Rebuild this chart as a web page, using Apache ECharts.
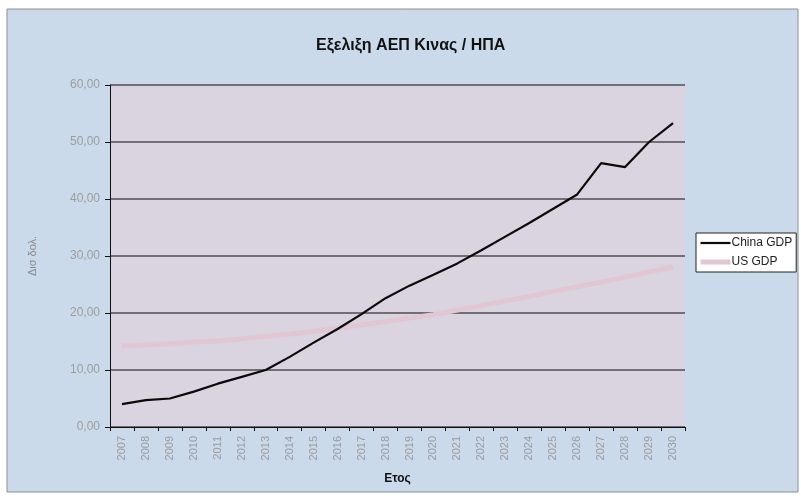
<!DOCTYPE html>
<html>
<head>
    <meta charset="UTF-8">
    <title>Εξελιξη ΑΕΠ</title>
    <script src="https://cdn.jsdelivr.net/npm/echarts@6/dist/echarts.min.js"></script>
    <style>
        body, html {
            margin: 0;
            padding: 0;
            background: #fff;
        }
        #chart {
            width: 801px;
            height: 502px;
        }
    </style>
</head>
<body>
<div id="chart"></div>
<script>
    var years = ['2007', '2008', '2009', '2010', '2011', '2012', '2013', '2014', '2015', '2016', '2017', '2018',
        '2019', '2020', '2021', '2022', '2023', '2024', '2025', '2026', '2027', '2028', '2029', '2030'];
    var chinaGdp = [4.0, 4.7, 5.0, 6.2, 7.6, 8.8, 10.0, 12.3, 14.8, 17.2, 19.8, 22.6,
        24.8, 26.7, 28.7, 31.0, 33.4, 35.8, 38.3, 40.8, 46.3, 45.6, 50.0, 53.3];
    var usGdp = [14.2, 14.4, 14.6, 14.9, 15.1, 15.5, 15.9, 16.3, 16.8, 17.3, 17.9, 18.5,
        19.1, 19.7, 20.5, 21.3, 22.1, 22.9, 23.8, 24.6, 25.4, 26.3, 27.2, 28.1];

    var font = 'Arial, "Liberation Sans", sans-serif';
    var chart = echarts.init(document.getElementById('chart'), null, {renderer: 'canvas'});

    chart.setOption({
        animation: false,
        textStyle: {fontFamily: font},
        graphic: [{
            type: 'rect',
            z: -10,
            shape: {x: 7, y: 9, width: 791, height: 483},
            style: {fill: '#cadaea', stroke: '#8a8f96', lineWidth: 1}
        }],
        title: {
            text: 'Εξελιξη ΑΕΠ Κινας / ΗΠΑ',
            left: 311,
            top: 33,
            textStyle: {fontSize: 16, fontWeight: 'bold', color: '#111', fontFamily: font}
        },
        legend: {
            orient: 'vertical',
            left: 696,
            top: 233,
            backgroundColor: '#ffffff',
            borderColor: '#222',
            borderWidth: 1,
            padding: [4, 4, 4, 2],
            itemGap: 7,
            itemWidth: 30,
            itemHeight: 8,
            itemStyle: {opacity: 0},
            lineStyle: {width: 'inherit'},
            textStyle: {fontSize: 12, color: '#222', padding: [0, 0, 0, -4]},
            data: ['China GDP', 'US GDP']
        },
        grid: {
            left: 110,
            right: 116,
            top: 85,
            bottom: 75,
            show: true,
            backgroundColor: '#d9d4df',
            borderWidth: 0
        },
        xAxis: {
            type: 'category',
            data: years,
            boundaryGap: true,
            name: 'Ετος',
            nameLocation: 'middle',
            nameGap: 46,
            nameTextStyle: {fontSize: 12, fontWeight: 'bold', color: '#111'},
            axisLine: {lineStyle: {color: '#111', width: 1}},
            axisTick: {show: true, length: 4, lineStyle: {color: '#111'}},
            axisLabel: {rotate: 90, interval: 0, fontSize: 11, color: '#9c9c9c', margin: 9},
            splitLine: {show: false}
        },
        yAxis: {
            type: 'value',
            min: 0,
            max: 60,
            interval: 10,
            name: 'Δισ δολ.',
            nameLocation: 'middle',
            nameGap: 72,
            nameRotate: 90,
            nameTextStyle: {fontSize: 11, color: '#8a8a8a'},
            axisLine: {show: true, lineStyle: {color: '#111', width: 1}},
            axisTick: {show: true, length: 5, lineStyle: {color: '#111'}},
            axisLabel: {
                fontSize: 12,
                color: '#9c9c9c',
                margin: 10,
                formatter: function (v) {
                    return v.toFixed(2).replace('.', ',');
                }
            },
            splitLine: {lineStyle: {color: '#4e4e52', width: 1.5}}
        },
        series: [
            {
                name: 'China GDP',
                type: 'line',
                data: chinaGdp,
                symbol: 'none',
                z: 3,
                lineStyle: {color: '#0a0a0a', width: 2.2},
                itemStyle: {color: '#0a0a0a'}
            },
            {
                name: 'US GDP',
                type: 'line',
                data: usGdp,
                symbol: 'none',
                z: 2,
                lineStyle: {color: '#e3c6d4', width: 5},
                itemStyle: {color: '#e3c6d4'}
            }
        ]
    });
</script>
</body>
</html>
